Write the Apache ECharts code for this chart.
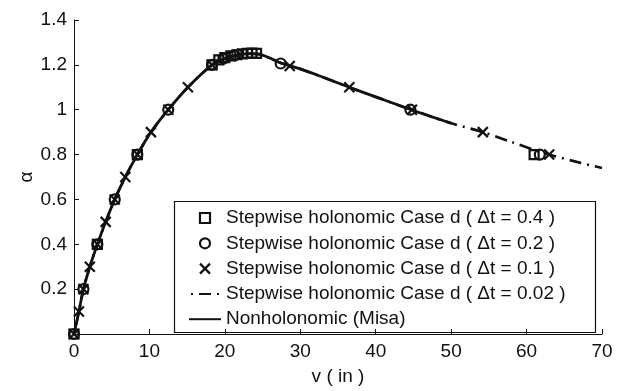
<!DOCTYPE html>
<html>
<head>
<meta charset="utf-8">
<script src="https://cdn.jsdelivr.net/npm/echarts@6/dist/echarts.min.js"></script>
<style>
  html, body { margin: 0; background: #fff; }
  #chart { width: 627px; height: 391px; }
</style>
</head>
<body>
<div id="chart"></div>
<script>
// nonholonomic (Misa) reference curve, solid
const nonholV = [0, 0.65, 1.25, 2.1, 3.1, 4.2, 5.4, 6.8, 8.4, 10.2, 12.5, 15.1, 18.3, 20, 21.5, 23, 24.5, 26, 27.5, 30, 33, 36.5, 40, 44.7, 50];
const nonholA = [0, 0.1, 0.2, 0.3, 0.4, 0.5, 0.6, 0.7, 0.8, 0.9, 1.0, 1.1, 1.2, 1.228, 1.242, 1.25, 1.248, 1.23, 1.207, 1.182, 1.145, 1.1, 1.057, 1.0, 0.94];

// dt = 0.02, dash-dot (hidden under the solid one up to ~50)
const fineV = [0, 0.65, 1.25, 2.1, 3.1, 4.2, 5.4, 6.8, 8.4, 10.2, 12.5, 15.1, 18.3, 20, 21.5, 23, 24.5, 26, 27.5, 30, 33, 36.5, 40, 44.7, 50, 54.2, 58, 62, 66, 70];
const fineA = [0, 0.1, 0.2, 0.3, 0.4, 0.5, 0.6, 0.7, 0.8, 0.9, 1.0, 1.1, 1.2, 1.228, 1.242, 1.25, 1.248, 1.23, 1.207, 1.182, 1.145, 1.1, 1.057, 1.0, 0.94, 0.9, 0.856, 0.81, 0.773, 0.74];

// dt = 0.4, squares
const sqV = [0, 3.1, 8.4, 18.3, 19.2, 20.0, 20.8, 21.6, 22.3, 23.0, 23.6, 24.2, 61.0];
const sqA = [0, 0.4, 0.8, 1.2, 1.222, 1.232, 1.24, 1.245, 1.249, 1.251, 1.252, 1.251, 0.8];

// dt = 0.2, circles
const ciV = [0, 1.25, 3.1, 5.4, 8.4, 12.5, 18.3, 19.8, 21.3, 27.4, 44.6, 61.75];
const ciA = [0, 0.2, 0.4, 0.6, 0.8, 1.0, 1.2, 1.228, 1.242, 1.206, 1.0, 0.8];

// dt = 0.1, crosses
const xV = [0, 0.65, 1.25, 2.1, 3.1, 4.2, 5.4, 6.8, 8.4, 10.2, 12.5, 15.1, 18.3, 28.6, 36.5, 44.8, 54.2, 63.0];
const xA = [0, 0.1, 0.2, 0.3, 0.4, 0.5, 0.6, 0.7, 0.8, 0.9, 1.0, 1.1, 1.2, 1.195, 1.1, 1.0, 0.9, 0.8];

const yTickLabels = ['', '0.2', '0.4', '0.6', '0.8', '1', '1.2', '1.4'];
const names = [
  'Stepwise holonomic Case d ( \u0394t = 0.4 )',
  'Stepwise holonomic Case d ( \u0394t = 0.2 )',
  'Stepwise holonomic Case d ( \u0394t = 0.1 )',
  'Stepwise holonomic Case d ( \u0394t = 0.02 )',
  'Nonholonomic (Misa)'
];

const zip = (a, b) => a.map((v, i) => [v, b[i]]);
const FONT = 'Liberation Sans, Arial, Helvetica, sans-serif';
const INK = '#111';
const crossPath = 'path://M0,0L10,10M0,10L10,0';
const squarePath = 'path://M0,0L10,0L10,10L0,10Z';
const hollow = { color: 'transparent', borderColor: INK, borderWidth: 2.2, opacity: 1 };

const option = {
  animation: false,
  backgroundColor: '#fff',
  grid: { left: 74, right: 25, top: 20, bottom: 51 },
  xAxis: {
    type: 'value', min: 0, max: 70, interval: 10,
    name: 'v ( in )', nameLocation: 'middle', nameGap: 33,
    nameTextStyle: { fontFamily: FONT, fontSize: 19, color: INK },
    axisLine: { lineStyle: { color: INK, width: 1 } },
    axisTick: { inside: true, length: 5, lineStyle: { color: INK } },
    axisLabel: { fontFamily: FONT, fontSize: 19, color: INK, margin: 8 },
    splitLine: { show: false }
  },
  yAxis: {
    type: 'value', min: 0, max: 1.4, interval: 0.2,
    name: '\u03b1', nameLocation: 'middle', nameGap: 38, nameRotate: 90,
    nameMoveOverlap: false,
    nameTextStyle: { fontFamily: FONT, fontSize: 19, color: INK },
    axisLine: { show: true, lineStyle: { color: INK, width: 1 } },
    axisTick: { show: true, inside: true, length: 5, lineStyle: { color: INK } },
    axisLabel: {
      fontFamily: FONT, fontSize: 19, color: INK, margin: 7,
      formatter: v => yTickLabels[Math.round(v / 0.2)]
    },
    splitLine: { show: false }
  },
  legend: {
    orient: 'vertical', left: 183, top: 203,
    itemWidth: 32, itemHeight: 10, itemGap: 5.3,
    textStyle: { fontFamily: FONT, fontSize: 19, color: INK, lineHeight: 20 },
    data: [
      { name: names[0], icon: squarePath, itemStyle: hollow },
      { name: names[1], icon: 'circle', itemStyle: hollow },
      { name: names[2], icon: crossPath, itemStyle: hollow },
      { name: names[3], itemStyle: { opacity: 0 } },
      { name: names[4], itemStyle: { opacity: 0 } }
    ]
  },
  graphic: [{
    type: 'rect', left: 172, top: 199, z: 100, silent: true,
    shape: { width: 421, height: 131 },
    style: { fill: 'none', stroke: INK, lineWidth: 1.2 }
  }],
  series: [
    {
      name: names[3], type: 'line', data: zip(fineV, fineA),
      symbol: 'none', smooth: 0.3, color: INK,
      lineStyle: { color: INK, width: 2.6, type: [12, 6, 2, 6], dashOffset: 16 }
    },
    {
      name: names[4], type: 'line', data: zip(nonholV, nonholA),
      symbol: 'none', smooth: 0.3, color: INK,
      lineStyle: { color: INK, width: 2.8 }
    },
    {
      name: names[0], type: 'scatter', data: zip(sqV, sqA),
      symbol: 'rect', symbolSize: 9, itemStyle: hollow
    },
    {
      name: names[1], type: 'scatter', data: zip(ciV, ciA),
      symbol: 'circle', symbolSize: 10, itemStyle: hollow
    },
    {
      name: names[2], type: 'scatter', data: zip(xV, xA),
      symbol: crossPath, symbolSize: 10, itemStyle: hollow
    }
  ]
};

const chart = echarts.init(document.getElementById('chart'));
chart.setOption(option);
</script>
</body>
</html>
